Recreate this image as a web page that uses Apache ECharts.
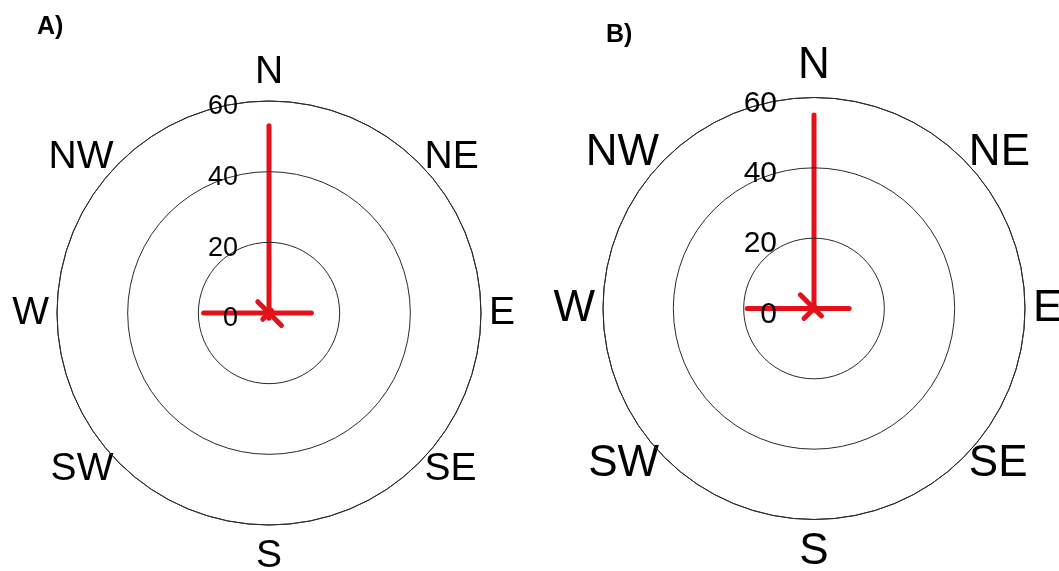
<!DOCTYPE html>
<html><head><meta charset="utf-8">
<script src="https://cdn.jsdelivr.net/npm/echarts@6/dist/echarts.min.js"></script>
<style>html,body{margin:0;padding:0;background:#fff}#c{width:1059px;height:571px}</style>
</head><body><div id="c"></div>
<script>
// ---- data ----
const directions = ['N', 'NE', 'E', 'SE', 'S', 'SW', 'W', 'NW'];
const radiusTicks = [0, 20, 40, 60];
const valuesA = [53, 1, 12, 5, 1.5, 2.5, 18.5, 4.5];
const valuesB = [55, 0.5, 10, 3, 0.5, 4, 19, 5.5];
const panelTitles = ['A)', 'B)'];

// ---- styles ----
const RED = '#e3121a';
const GRID = '#2a2a2a';
const FONT = '"Liberation Sans", Arial, sans-serif';
const STEP = 360 / directions.length;
const panels = [
  { center: [269, 313], radius: 212, dirFont: 39, tickFont: 27, tickMargin: 31,
    lh: { N: 42, NE: 1, E: 39, SE: 1, S: 46, SW: 1, W: 39, NW: 1 }, title: { left: 37, top: 15 } },
  { center: [814, 308.5], radius: 211, dirFont: 44, tickFont: 30, tickMargin: 37,
    lh: { N: 48, NE: 1, E: 44, SE: 1, S: 48, SW: 1, W: 44, NW: 1 }, title: { left: 606, top: 23 } }
];
const seriesValues = [valuesA, valuesB];

function richFor(p) {
  const rich = {};
  directions.forEach(d => {
    rich[d] = { fontSize: p.dirFont, fontFamily: FONT, color: '#000', lineHeight: p.lh[d] };
  });
  return rich;
}

const chart = echarts.init(document.getElementById('c'), null, { renderer: 'canvas' });

const option = {
  backgroundColor: '#fff',
  animation: false,
  title: panels.map((p, i) => ({
    text: panelTitles[i], left: p.title.left, top: p.title.top, padding: 0,
    textStyle: { fontFamily: '"Liberation Sans", Arial, sans-serif', fontWeight: 'bold', fontSize: 25, color: '#000' }
  })),
  polar: panels.map(p => ({ center: p.center, radius: p.radius })),
  angleAxis: panels.map((p, i) => ({
    polarIndex: i,
    type: 'value',
    min: 0,
    max: 360,
    interval: STEP,
    startAngle: 90,
    clockwise: true,
    axisLine: { show: true, lineStyle: { color: GRID, width: 1 } },
    axisTick: { show: false },
    splitLine: { show: false },
    splitArea: { show: false },
    axisLabel: {
      margin: 8, fontSize: p.dirFont, color: '#000', fontFamily: FONT,
      formatter: function (v) {
        const d = directions[Math.round(v / STEP) % directions.length];
        return '{' + d + '|' + d + '}';
      },
      rich: richFor(p)
    }
  })),
  radiusAxis: panels.map((p, i) => ({
    polarIndex: i,
    type: 'value',
    min: radiusTicks[0],
    max: radiusTicks[radiusTicks.length - 1],
    interval: radiusTicks[1] - radiusTicks[0],
    axisLine: { show: false },
    axisTick: { show: false },
    splitLine: { show: true, lineStyle: { color: GRID, width: 1, type: 'solid' } },
    splitArea: { show: false },
    axisLabel: { margin: p.tickMargin, fontSize: p.tickFont, color: '#000', fontFamily: FONT,
      verticalAlign: 'top', lineHeight: 12, showMinLabel: true, showMaxLabel: true },
    z: 10
  })),
  series: seriesValues.map((vals, i) => ({
    type: 'custom',
    coordinateSystem: 'polar',
    polarIndex: i,
    data: vals.map((v, k) => [v, k * STEP]),
    encode: { radius: 0, angle: 1 },
    z: 5,
    renderItem: function (params, api) {
      const a = api.value(1), r = api.value(0);
      const p0 = api.coord([0, a]);
      const p1 = api.coord([r, a]);
      return {
        type: 'line',
        shape: { x1: p0[0], y1: p0[1], x2: p1[0], y2: p1[1] },
        style: { stroke: RED, lineWidth: 5, lineCap: 'round' }
      };
    }
  }))
};
chart.setOption(option);
</script>
</body></html>
